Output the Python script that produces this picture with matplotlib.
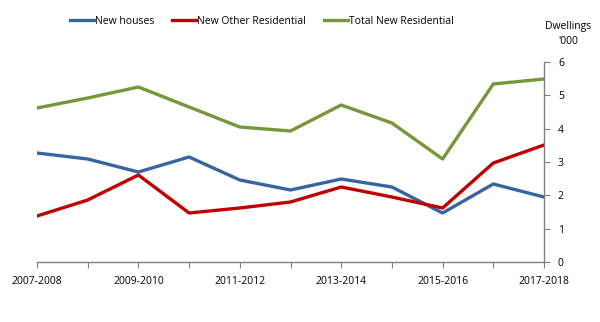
import matplotlib
matplotlib.use("Agg")
import matplotlib.pyplot as plt

years = ['2007-2008', '2008-2009', '2009-2010', '2010-2011', '2011-2012', '2012-2013',
         '2013-2014', '2014-2015', '2015-2016', '2016-2017', '2017-2018']
new_houses = [3.27, 3.09, 2.70, 3.15, 2.46, 2.16, 2.49, 2.25, 1.47, 2.34, 1.95]
new_other = [1.38, 1.86, 2.61, 1.47, 1.62, 1.80, 2.25, 1.95, 1.62, 2.97, 3.51]
total_new = [4.62, 4.92, 5.25, 4.65, 4.05, 3.93, 4.71, 4.17, 3.09, 5.34, 5.49]

plt.rcParams['font.family'] = ['Open Sans', 'DejaVu Sans']

fig = plt.figure(figsize=(6, 3.22), dpi=100)
ax = fig.add_axes([37/600, 1 - 262/322, (544 - 37)/600, 200/322])

x = list(range(len(years)))
l1, = ax.plot(x, new_houses, color='#3864a0', lw=2.4, label='New houses')
l2, = ax.plot(x, new_other, color='#c00000', lw=2.4, label='New Other Residential')
l3, = ax.plot(x, total_new, color='#76973a', lw=2.4, label='Total New Residential')

ax.set_xlim(0, 10)
ax.set_ylim(0, 6)
ax.set_xticks(x)
ax.set_xticklabels([y if i % 2 == 0 else '' for i, y in enumerate(years)], fontsize=7.5)
ax.set_yticks(range(7))
ax.yaxis.tick_right()
ax.tick_params(axis='y', labelsize=7.5, color='#808080', length=4, direction='out', pad=6)
ax.tick_params(axis='x', color='#808080', length=4, direction='out', pad=6)

for s in ['top', 'left']:
    ax.spines[s].set_visible(False)
for s in ['bottom', 'right']:
    ax.spines[s].set_color('#808080')
    ax.spines[s].set_linewidth(1)

fig.legend(handles=[l1, l2, l3], loc='center', bbox_to_anchor=(262/600, 1 - 21/322),
           ncol=3, frameon=False, fontsize=7.5, handlelength=2.3, handletextpad=0.1,
           columnspacing=1.7)
fig.text(568/600, 1 - 26/322, 'Dwellings', ha='center', va='center', fontsize=7.5)
fig.text(568/600, 1 - 42/322, "'000", ha='center', va='center', fontsize=7.5)

fig.savefig('out.png', dpi=100)
